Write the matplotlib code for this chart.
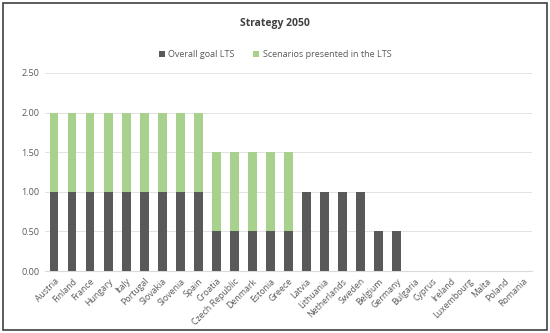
import numpy as np
import matplotlib.pyplot as plt
from matplotlib.patches import Rectangle

plt.rcParams['font.family'] = ['Open Sans', 'DejaVu Sans']

countries = ['Austria', 'Finland', 'France', 'Hungary', 'Italy', 'Portugal',
             'Slovakia', 'Slovenia', 'Spain', 'Croatia', 'Czech Republic',
             'Denmark', 'Estonia', 'Greece', 'Latvia', 'Lithuania',
             'Netherlands', 'Sweden', 'Belgium', 'Germany', 'Bulgaria',
             'Cyprus', 'Ireland', 'Luxembourg', 'Malta', 'Poland', 'Romania']
overall_goal = [1, 1, 1, 1, 1, 1, 1, 1, 1, 0.5, 0.5, 0.5, 0.5, 0.5,
                1, 1, 1, 1, 0.5, 0.5, 0, 0, 0, 0, 0, 0, 0]
scenarios = [1, 1, 1, 1, 1, 1, 1, 1, 1, 1, 1, 1, 1, 1,
             0, 0, 0, 0, 0, 0, 0, 0, 0, 0, 0, 0, 0]
yticks = [0.0, 0.5, 1.0, 1.5, 2.0, 2.5]

dark = '#595959'
green = '#A9D18E'
txt = '#595959'

fig = plt.figure(figsize=(5.5, 3.33), dpi=100)
ax = fig.add_axes([0.082, 0.186, 0.885, 0.595])

x = np.arange(len(countries))
ax.bar(x, overall_goal, width=0.48, color=dark, label='Overall goal LTS', zorder=3)
ax.bar(x, scenarios, width=0.48, bottom=overall_goal, color=green,
       label='Scenarios presented in the LTS', zorder=3)

ax.set_xlim(-0.5, len(countries) - 0.5)
ax.set_ylim(0, 2.5)
ax.set_yticks(yticks)
ax.set_yticklabels(['%.2f' % v for v in yticks], fontsize=6.5, color=txt)
ax.set_xticks(x)
ax.set_xticklabels(countries, rotation=45, ha='right', rotation_mode='anchor',
                   fontsize=6.3, color=txt)
ax.tick_params(length=0, pad=4)
ax.grid(axis='y', color='#E3E3E3', linewidth=0.7, zorder=0)
for s in ['top', 'right', 'left']:
    ax.spines[s].set_visible(False)
ax.spines['bottom'].set_color('#D9D9D9')

fig.text(0.5, 0.928, 'Strategy 2050', ha='center', va='center',
         fontsize=7.5, fontweight='bold', color='#404040')
fig.legend(loc='center', bbox_to_anchor=(0.5, 0.835), ncol=2, frameon=False,
           fontsize=6.5, handlelength=0.7, handleheight=0.7, columnspacing=2.0,
           handletextpad=0.4, labelcolor=txt)

fig.patches.append(Rectangle((0.006, 0.01), 0.988, 0.98, transform=fig.transFigure,
                             fill=False, edgecolor='#404040', linewidth=1.2))

fig.savefig('out.png', dpi=100)
